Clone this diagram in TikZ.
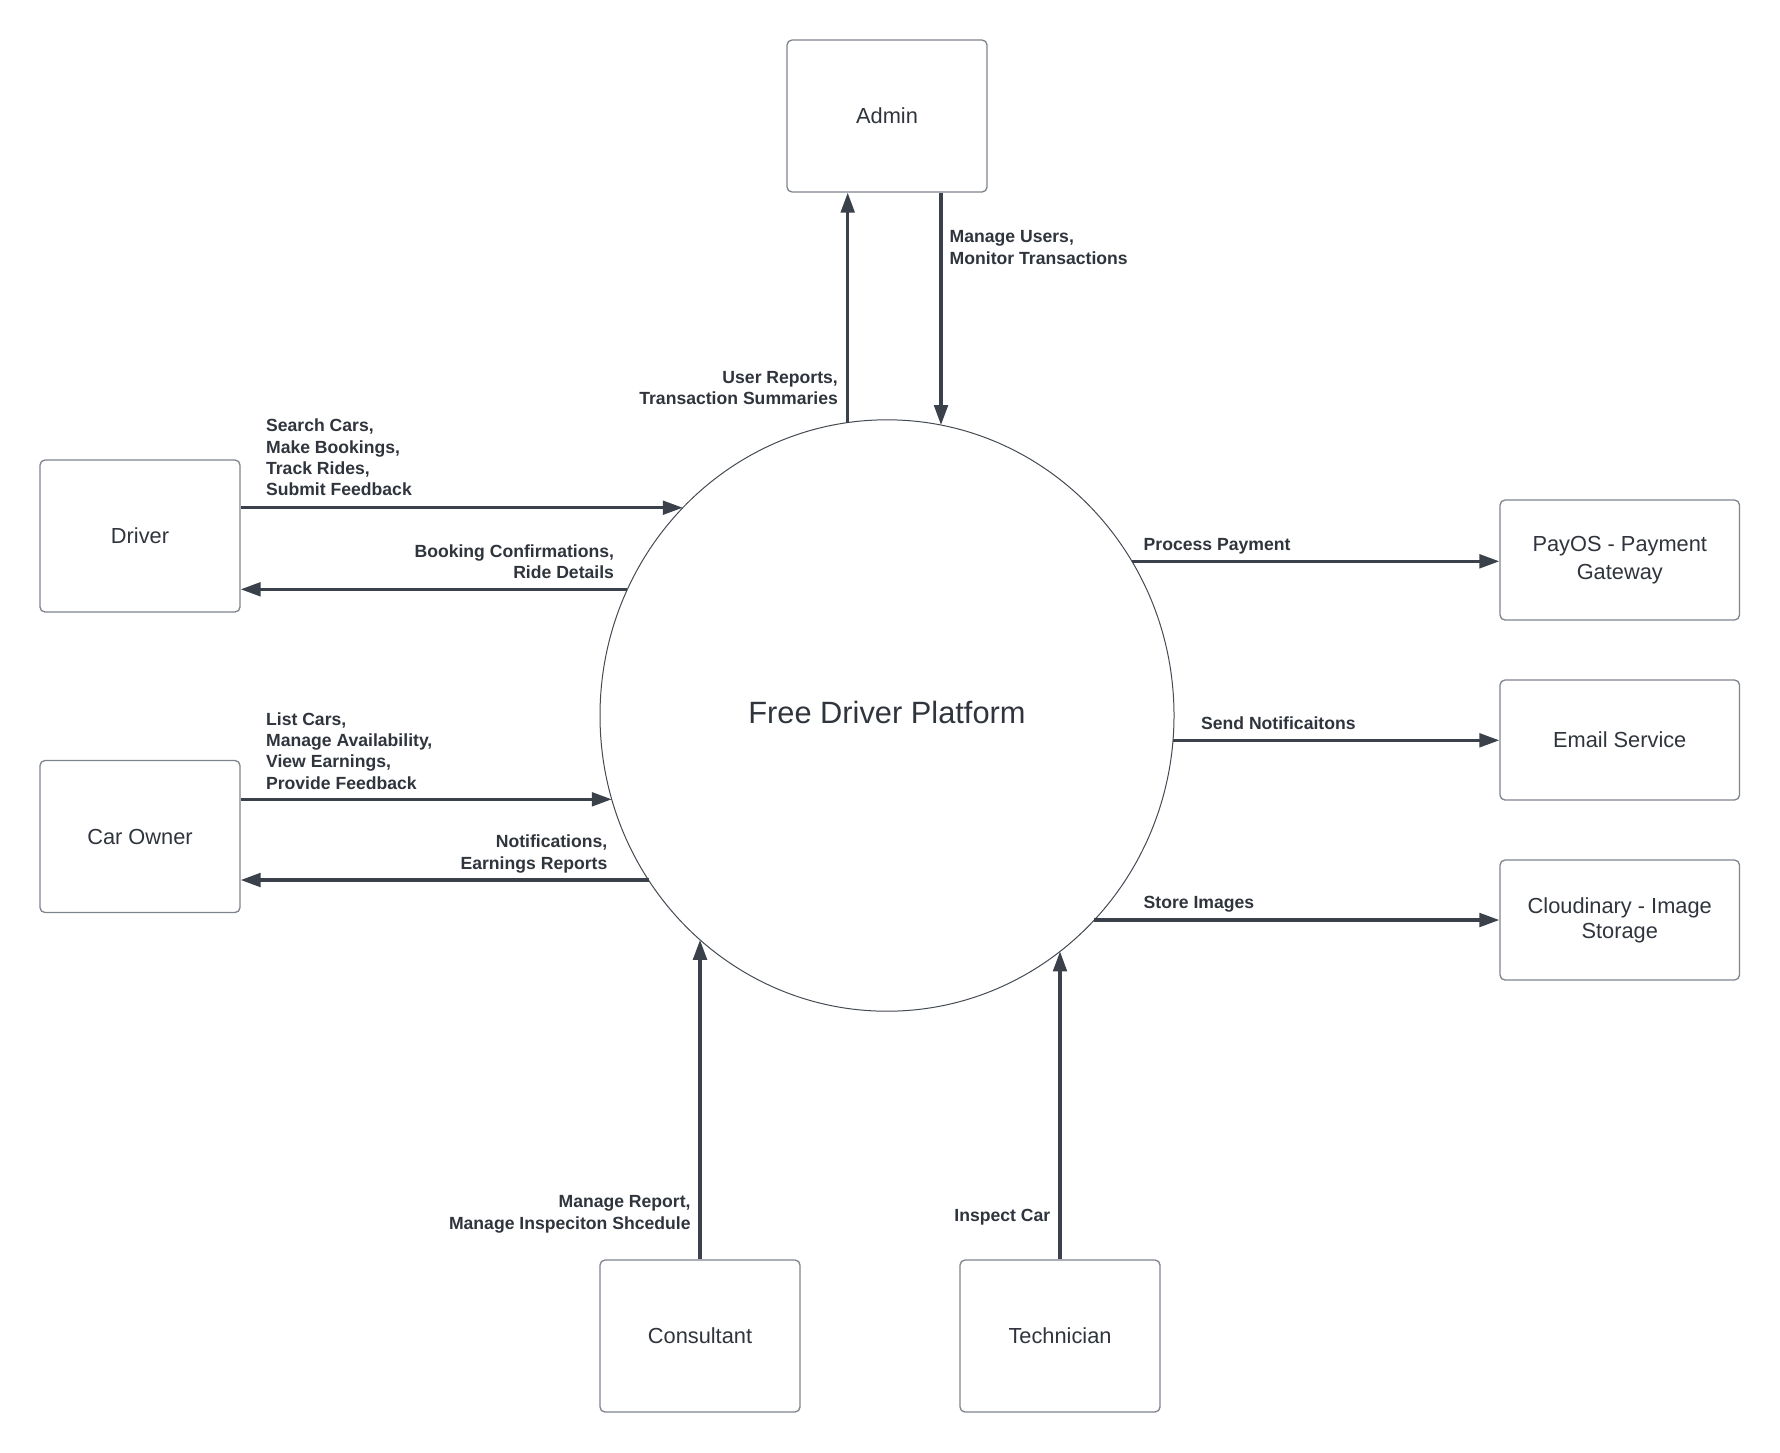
\documentclass[tikz,border=0pt]{standalone}
\usepackage{fontspec}
\setmainfont{Liberation Sans}
\usetikzlibrary{arrows.meta,shapes.geometric,calc}
\definecolor{txt}{HTML}{30353D}
\definecolor{arrc}{HTML}{3A414A}
\definecolor{boxc}{HTML}{7E848C}
\definecolor{circc}{HTML}{454B53}
\newcommand{\Lt}[1]{\begin{tabular}[t]{@{}l@{}}#1\end{tabular}}
\newcommand{\Rt}[1]{\begin{tabular}[t]{@{}r@{}}#1\end{tabular}}
\begin{document}
\begin{tikzpicture}[x=0.5pt,y=-0.5pt,
  box/.style={draw=boxc, line width=0.65pt, rounded corners=2.5pt, fill=white, inner sep=0pt,
    text=txt, font=\fontsize{10.9pt}{13.5pt}\selectfont, align=center,
    minimum width=100pt, minimum height=76pt},
  wbox/.style={box, minimum width=119.75pt, minimum height=60pt},
  flow/.style={draw=arrc, line width=1.65pt, -{Triangle[length=10pt,width=6.8pt]}},
  lbl/.style={inner sep=0pt, text=txt, font=\fontsize{8.8pt}{10.7pt}\selectfont\bfseries}]
\fill[white] (0,0) rectangle (1780,1452);
\useasboundingbox (0,0) rectangle (1780,1452);

% central process
\node[ellipse, draw=circc, line width=0.5pt, minimum width=287pt, minimum height=295.7pt,
  inner sep=0pt, text depth=3.5pt, text=txt, font=\fontsize{15.4pt}{18pt}\selectfont] (sys) at (887,715.5) {Free Driver Platform};

% external entities
\node[box] (admin) at (887,116) {Admin};
\node[box] (driver) at (140,536) {Driver};
\node[box] (owner) at (140,836.5) {Car Owner};
\node[box] (consultant) at (700,1336) {Consultant};
\node[box] (technician) at (1060,1336) {Technician};
\node[wbox, font=\fontsize{10.9pt}{14.2pt}\selectfont] (payos) at (1619.75,560) {PayOS - Payment\\Gateway};
\node[wbox] (email) at (1619.75,740) {Email Service};
\node[wbox, font=\fontsize{10.9pt}{12.5pt}\selectfont] (cloud) at (1619.75,920) {Cloudinary - Image\\Storage};

% points on the border of the central process
\coordinate (aU) at ($(sys.center)+(-39.3,-292.9)$);
\coordinate (aD) at ($(sys.center)+(54,-290.4)$);
\coordinate (dO) at ($(sys.center)+(-204.2,-207.8)$);
\coordinate (dI) at ($(sys.center)+(-259.6,-126.2)$);
\coordinate (oO) at ($(sys.center)+(-275.2,83.8)$);
\coordinate (oI) at ($(sys.center)+(-238.5,164.5)$);
\coordinate (pO) at ($(sys.center)+(244.9,-154.2)$);
\coordinate (eO) at ($(sys.center)+(286.0,24.8)$);
\coordinate (cO) at ($(sys.center)+(207.3,204.5)$);
\coordinate (kU) at ($(sys.center)+(-187,224.3)$);
\coordinate (tU) at ($(sys.center)+(173,235.9)$);

% flows
\draw[flow] (aU) -- (admin.south -| aU);
\draw[flow] (admin.south -| aD) -- (aD);
\draw[flow] (driver.east |- dO) -- (dO);
\draw[flow] (dI) -- (driver.east |- dI);
\draw[flow] (owner.east |- oO) -- (oO);
\draw[flow] (oI) -- (owner.east |- oI);
\draw[flow] (pO) -- (payos.west |- pO);
\draw[flow] (eO) -- (email.west |- eO);
\draw[flow] (cO) -- (cloud.west |- cO);
\draw[flow] (consultant.north) -- (consultant.north |- kU);
\draw[flow] (technician.north) -- (technician.north |- tU);

% labels
\node[lbl, anchor=base east] (lAU) at (838.3,383.3) {\Rt{User Reports,\\Transaction Summaries}};
\node[lbl, anchor=base west] (lAD) at (949.3,242.7) {\Lt{Manage Users,\\Monitor Transactions}};
\node[lbl, anchor=base west] (lDO) at (265.7,431.6) {\Lt{Search Cars,\\Make Bookings,\\Track Rides,\\Submit Feedback}};
\node[lbl, anchor=base east] (lDI) at (614.4,557.3) {\Rt{Booking Confirmations,\\Ride Details}};
\node[lbl, anchor=base west] (lOO) at (265.7,725) {\Lt{List Cars,\\Manage Availability,\\View Earnings,\\Provide Feedback}};
\node[lbl, anchor=base east] (lOI) at (607.7,847.7) {\Rt{Notifications,\\Earnings Reports}};
\node[lbl, anchor=base west] (lP) at (1143.3,550) {Process Payment};
\node[lbl, anchor=base west] (lE) at (1200.7,729) {Send Notificaitons};
\node[lbl, anchor=base west] (lC) at (1143.3,908.7) {Store Images};
\node[lbl, anchor=base east] (lK) at (691,1207.7) {\Rt{Manage Report,\\Manage Inspeciton Shcedule}};
\node[lbl, anchor=base east] (lT) at (1050.7,1221) {Inspect Car};
\end{tikzpicture}
\end{document}
